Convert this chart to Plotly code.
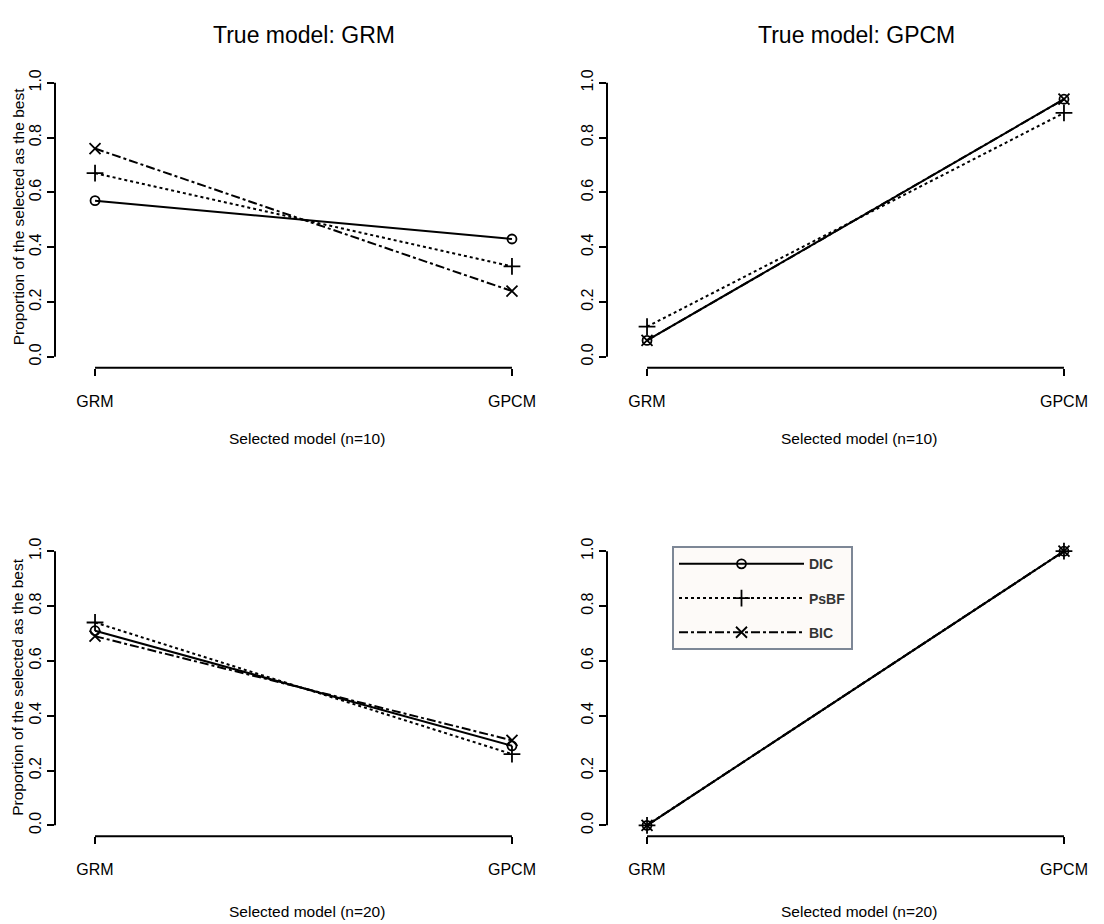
import plotly.graph_objects as go

models = ["GRM", "GPCM"]
criteria = ["DIC", "PsBF", "BIC"]

# proportions selected as best [GRM, GPCM]
grm_n10 = {"DIC": [0.57, 0.43], "PsBF": [0.67, 0.33], "BIC": [0.76, 0.24]}
gpcm_n10 = {"DIC": [0.06, 0.94], "PsBF": [0.11, 0.89], "BIC": [0.06, 0.94]}
grm_n20 = {"DIC": [0.71, 0.29], "PsBF": [0.74, 0.26], "BIC": [0.69, 0.31]}
gpcm_n20 = {"DIC": [0.00, 1.00], "PsBF": [0.00, 1.00], "BIC": [0.00, 1.00]}

y_ticks = [0.0, 0.2, 0.4, 0.6, 0.8, 1.0]

styles = {
    "DIC": dict(dash="solid", symbol="circle-open", size=9),
    "PsBF": dict(dash="dot", symbol="cross-thin-open", size=12),
    "BIC": dict(dash="dashdot", symbol="x-thin-open", size=11),
}

# page has an 8px body margin; work in page pixels and convert
OFF = 8
W, H = 1104 - OFF, 924 - OFF
FONT = "Liberation Sans, Arial, Helvetica, sans-serif"


def px(p):
    return (p - OFF) / W


def py(p):
    return 1 - (p - OFF) / H


panels = [
    # (data, axis suffix, x page-px domain, y page-px domain top->bottom)
    (grm_n10, "", (55, 552), (69, 366)),
    (gpcm_n10, "2", (607, 1104), (69, 366)),
    (grm_n20, "3", (55, 552), (539, 836)),
    (gpcm_n20, "4", (607, 1104), (539, 836)),
]

fig = go.Figure()
layout = dict(
    width=W, height=H, margin=dict(l=0, r=0, t=0, b=0),
    paper_bgcolor="white", plot_bgcolor="white",
    font=dict(family=FONT, size=15, color="black"),
    shapes=[], annotations=[],
)

for data, sfx, (x0, x1), (yt, yb) in panels:
    xa = "x" + sfx
    ya = "y" + sfx
    show_leg = sfx == "4"
    for c in criteria:
        st = styles[c]
        fig.add_trace(go.Scatter(
            x=models, y=data[c], name=c, mode="lines+markers",
            xaxis=xa, yaxis=ya, showlegend=show_leg, legendgroup=c,
            line=dict(color="black", width=2, dash=st["dash"]),
            marker=dict(symbol=st["symbol"], size=st["size"], color="black",
                        line=dict(color="black", width=1.8)),
        ))
    layout["xaxis" + sfx] = dict(
        domain=[px(x0), min(px(x1), 1.0)], anchor=ya, type="category",
        range=[-0.096, 1.096], showgrid=False, zeroline=False, showline=False,
        ticks="outside", ticklen=7, tickwidth=2, tickcolor="black",
        ticklabelstandoff=12, tickfont=dict(size=16),
    )
    layout["yaxis" + sfx] = dict(
        domain=[py(yb), py(yt)], anchor=xa,
        range=[-0.04, 1.04], showgrid=False, zeroline=False, showline=False,
        tickvals=y_ticks, tickformat=".1f", tickangle=-90,
        ticks="outside", ticklen=7, tickwidth=2, tickcolor="black",
        ticklabelstandoff=0, tickfont=dict(size=16),
    )
    # R-style axis lines spanning only the tick range
    layout["shapes"].append(dict(
        type="line", xref=xa + " domain", yref=ya, x0=0, x1=0, y0=0, y1=1,
        line=dict(color="black", width=2)))
    layout["shapes"].append(dict(
        type="line", xref=xa, yref=ya + " domain", x0=0, x1=1, y0=0, y1=0,
        line=dict(color="black", width=2)))


def ann(text, x, y, size, angle=0):
    return dict(text=text, x=px(x), y=py(y), xref="paper", yref="paper",
                xanchor="center", yanchor="middle", showarrow=False,
                textangle=angle, font=dict(size=size))


layout["annotations"] += [
    ann("True model: GRM", 304, 32, 23),
    ann("True model: GPCM", 856, 32, 23),
    ann("Selected model (n=10)", 307, 437, 15.5),
    ann("Selected model (n=10)", 859, 437, 15.5),
    ann("Selected model (n=20)", 307, 911, 15.5),
    ann("Selected model (n=20)", 859, 911, 15.5),
    ann("Proportion of the selected as the best", 18, 215, 15.5, -90),
    ann("Proportion of the selected as the best", 18, 687, 15.5, -90),
]

layout["legend"] = dict(
    x=px(672), y=py(545), xanchor="left", yanchor="top",
    bgcolor="#fdfaf8", bordercolor="#7d8796", borderwidth=2,
    font=dict(family=FONT, size=14, color="#333333", weight="bold"),
    itemwidth=125, tracegroupgap=13,
)

fig.update_layout(**layout)
fig.write_html("out.html")
